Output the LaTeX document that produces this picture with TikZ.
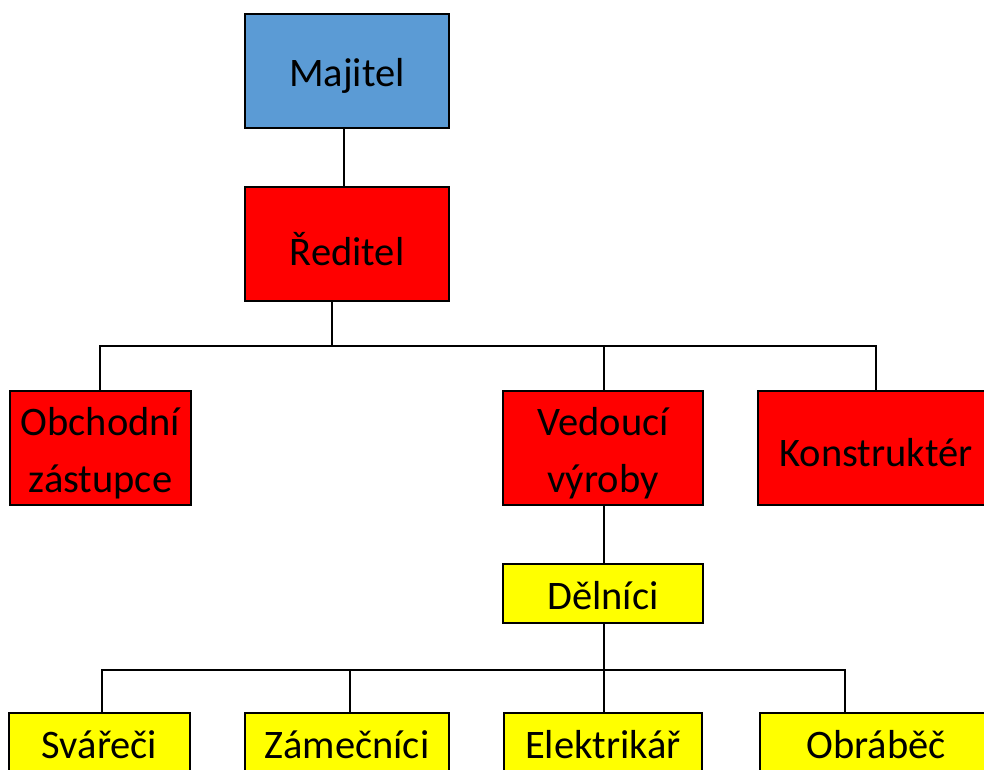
\documentclass[tikz,border=0pt]{standalone}
\usepackage{fontspec}
\setmainfont{Carlito}
\definecolor{boxblue}{HTML}{5B9BD5}
\definecolor{boxred}{HTML}{FF0000}
\definecolor{boxyellow}{HTML}{FFFF00}
\begin{document}
\begin{tikzpicture}[x=1pt,y=-1pt,
  box/.style={draw=black, line width=2pt, inner sep=0pt},
  txt/.style={inner sep=0pt, align=center, font=\fontsize{40.5}{57}\selectfont},
  conn/.style={draw=black, line width=2pt}]
\useasboundingbox (0,0) rectangle (984,769);
\clip (0,0) rectangle (984,769);
\fill[white] (0,0) rectangle (984,769);
% nodes
\node[box, fill=boxblue, minimum width=204pt, minimum height=114pt,
  label={[txt,yshift=-5pt]center:Majitel}] (maj) at (347,71) {};
\node[box, fill=boxred, minimum width=204pt, minimum height=114pt,
  label={[txt,yshift=-5pt]center:Ředitel}] (red) at (347,244) {};
\node[box, fill=boxred, minimum width=181pt, minimum height=114pt,
  label={[txt,yshift=-5pt]center:Obchodní\\zástupce}] (obch) at (100.5,448) {};
\node[box, fill=boxred, minimum width=200pt, minimum height=114pt,
  label={[txt,yshift=-5pt]center:Vedoucí\\výroby}] (ved) at (603,448) {};
\node[box, fill=boxred, minimum width=236pt, minimum height=114pt,
  label={[txt,yshift=-5pt]center:Konstruktér}] (kon) at (876,448) {};
\node[box, fill=boxyellow, minimum width=200pt, minimum height=59pt,
  label={[txt,yshift=-3pt]center:Dělníci}] (del) at (603,593) {};
\node[box, fill=boxyellow, minimum width=181pt, minimum height=70pt, anchor=north,
  label={[txt,yshift=3pt]center:Svářeči}] (sva) at (99.5,712) {};
\node[box, fill=boxyellow, minimum width=204pt, minimum height=70pt, anchor=north,
  label={[txt,yshift=3pt]center:Zámečníci}] (zam) at (347,712) {};
\node[box, fill=boxyellow, minimum width=198pt, minimum height=70pt, anchor=north,
  label={[txt,yshift=3pt]center:Elektrikář}] (ele) at (603,712) {};
\node[box, fill=boxyellow, minimum width=232pt, minimum height=70pt, anchor=north,
  label={[txt,yshift=3pt]center:Obráběč}] (obr) at (876,712) {};
% bus points
\coordinate (b1) at (332,346);
\coordinate (b2) at (604,670);
% connectors
\draw[conn] ([xshift=-3pt]maj.south) -- ([xshift=-3pt]red.north);
\draw[conn] ([xshift=-15pt]red.south) -- (b1);
\draw[conn] ([xshift=-0.5pt]obch.north) |- (b1);
\draw[conn] ([xshift=1pt]ved.north) |- (b1);
\draw[conn] (kon.north) |- (b1);
\draw[conn] ([xshift=1pt]ved.south) -- ([xshift=1pt]del.north);
\draw[conn] ([xshift=1pt]del.south) -- (b2);
\draw[conn] ([xshift=2.5pt]sva.north) |- (b2);
\draw[conn] ([xshift=3pt]zam.north) |- (b2);
\draw[conn] ([xshift=1pt]ele.north) |- (b2);
\draw[conn] ([xshift=-31pt]obr.north) |- (b2);
\end{tikzpicture}
\end{document}
